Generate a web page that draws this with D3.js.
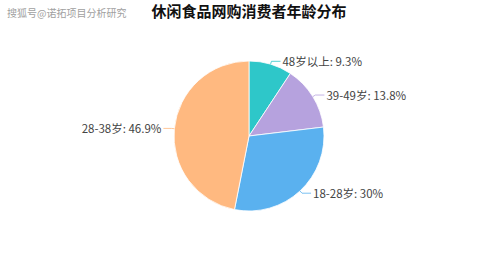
<!DOCTYPE html>
<html>
<head>
<meta charset="utf-8">
<script src="https://d3js.org/d3.v7.min.js"></script>
<style>
  body { margin: 0; background: #fff; }
  text { font-family: "Noto Sans CJK SC", "Noto Sans", sans-serif; }
</style>
</head>
<body>
<svg id="pie" width="498" height="273"></svg>
<script>
const ages = ["48岁以上", "39-49岁", "18-28岁", "28-38岁"];
const shares = [9.3, 13.8, 30, 46.9];
const colors = ["#2ec7c9", "#b6a2de", "#5ab1ef", "#ffb980"];

const svg = d3.select("svg#pie");
const cx = 249, cy = 136, r = 75;

svg.append("text")
    .attr("x", 7).attr("y", 12)
    .attr("dominant-baseline", "central")
    .style("font-size", "10px")
    .style("fill", "#a0a0a0")
    .text("搜狐号@诺拓项目分析研究");

svg.append("text")
    .attr("x", 249).attr("y", 10.5)
    .attr("text-anchor", "middle")
    .attr("dominant-baseline", "central")
    .style("font-size", "15px")
    .style("font-weight", "bold")
    .style("fill", "#111")
    .text("休闲食品网购消费者年龄分布");

const data = ages.map((a, i) => ({ age: a, value: shares[i], color: colors[i] }));
const pie = d3.pie().value(d => d.value).sort(null);
const arcs = pie(data);
const arc = d3.arc().innerRadius(0).outerRadius(r);

const g = svg.append("g").attr("transform", "translate(" + cx + "," + cy + ")");

g.selectAll("path.slice").data(arcs)
    .join("path")
    .attr("class", "slice")
    .attr("d", arc)
    .style("fill", d => d.data.color)
    .style("stroke", "#fff")
    .style("stroke-width", 0.8);

// label lines: a short step out from the edge, then a horizontal run
arcs.forEach(d => {
    const a = (d.startAngle + d.endAngle) / 2;
    const x0 = Math.sin(a) * r, y0 = -Math.cos(a) * r;
    const x1 = Math.sin(a) * (r + 3), y1 = -Math.cos(a) * (r + 3);
    const right = x1 > 0;
    const x2 = x1 + (right ? 9 : -8);
    g.append("polyline")
        .attr("points", [[x0, y0], [x1, y1], [x2, y1]].map(p => p.join(",")).join(" "))
        .style("fill", "none")
        .style("stroke", d.data.color)
        .style("stroke-opacity", 0.8)
        .style("stroke-width", 1);
    g.append("text")
        .attr("x", x2 + (right ? 2 : -2))
        .attr("y", y1)
        .attr("text-anchor", right ? "start" : "end")
        .attr("dominant-baseline", "central")
        .style("font-size", "11.5px")
        .style("fill", "#444")
        .text(d.data.age + ": " + d.data.value + "%");
});
</script>
</body>
</html>
